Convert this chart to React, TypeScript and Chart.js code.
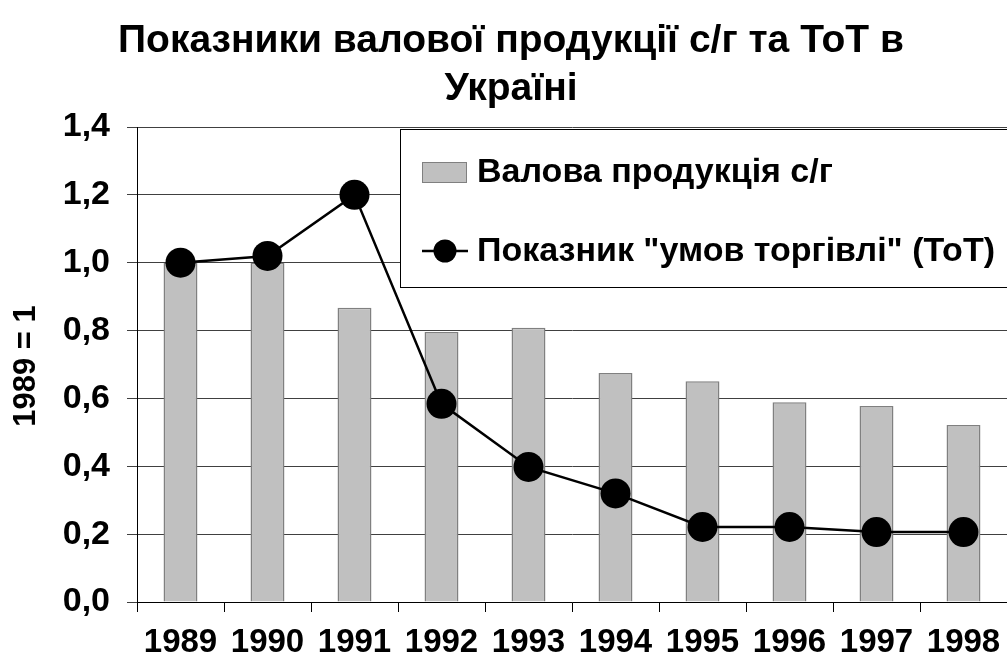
import React, { useEffect, useRef } from "react";
import { Chart, registerables } from "chart.js";

Chart.register(...registerables);

const years = ["1989", "1990", "1991", "1992", "1993", "1994", "1995", "1996", "1997", "1998"];
const grossOutput = [1.0, 1.0, 0.867, 0.796, 0.808, 0.675, 0.651, 0.589, 0.578, 0.522];
const termsOfTrade = [1.0, 1.02, 1.2, 0.584, 0.398, 0.32, 0.221, 0.221, 0.206, 0.206];
const titleLines = ["Показники валової продукції с/г та ТоТ в", "Україні"];
const yAxisTitle = "1989 = 1";
const barLabel = "Валова продукція с/г";
const lineLabel = "Показник \"умов торгівлі\" (ТоТ)";

const FONT = "'Liberation Sans', Arial, sans-serif";

const decorPlugin = {
  id: "decor",
  afterDraw(chart: any) {
    const ctx = chart.ctx as CanvasRenderingContext2D;
    ctx.save();
    // Title
    ctx.fillStyle = "#000";
    ctx.textAlign = "center";
    ctx.textBaseline = "middle";
    ctx.font = `bold 39px ${FONT}`;
    ctx.fillText(titleLines[0], 511, 41);
    ctx.fillText(titleLines[1], 511, 89);
    // Y axis title
    ctx.save();
    ctx.translate(26, 366);
    ctx.rotate(-Math.PI / 2);
    ctx.font = `bold 31px ${FONT}`;
    ctx.fillText(yAxisTitle, 0, 0);
    ctx.restore();
    // Legend
    ctx.fillStyle = "#fff";
    ctx.fillRect(400.5, 129.5, 620, 158);
    ctx.strokeStyle = "#000";
    ctx.lineWidth = 1;
    ctx.strokeRect(400.5, 129.5, 620, 158);
    ctx.fillStyle = "#c0c0c0";
    ctx.fillRect(422.5, 162.5, 44, 20);
    ctx.strokeStyle = "#808080";
    ctx.strokeRect(422.5, 162.5, 44, 20);
    ctx.strokeStyle = "#000";
    ctx.lineWidth = 2.5;
    ctx.beginPath();
    ctx.moveTo(422, 251);
    ctx.lineTo(468, 251);
    ctx.stroke();
    ctx.fillStyle = "#000";
    ctx.beginPath();
    ctx.arc(445, 251, 11.5, 0, Math.PI * 2);
    ctx.fill();
    ctx.textAlign = "left";
    ctx.font = `bold 34px ${FONT}`;
    ctx.fillText(barLabel, 477, 173);
    ctx.fillText(lineLabel, 477, 252);
    ctx.restore();
  },
};

export default function App() {
  const ref = useRef<HTMLCanvasElement | null>(null);
  useEffect(() => {
    if (!ref.current) return;
    const chart = new Chart(ref.current, {
      type: "bar",
      data: {
        labels: years,
        datasets: [
          {
            type: "line",
            label: lineLabel,
            data: termsOfTrade,
            borderColor: "#000",
            borderWidth: 2.5,
            pointRadius: 15,
            pointBackgroundColor: "#000",
            pointBorderColor: "#000",
            pointBorderWidth: 0,
            order: 0,
          } as any,
          {
            type: "bar",
            label: barLabel,
            data: grossOutput,
            backgroundColor: "#c0c0c0",
            borderColor: "#808080",
            borderWidth: 1.5,
            categoryPercentage: 1,
            barPercentage: 0.39,
            order: 1,
          },
        ],
      },
      options: {
        animation: false,
        responsive: false,
        layout: { autoPadding: false, padding: { left: 0, top: 127, right: -1, bottom: 0 } },
        plugins: { legend: { display: false }, title: { display: false }, tooltip: { enabled: false } },
        scales: {
          x: {
            afterFit(scale: any) {
              scale.height = 64;
              scale.paddingLeft = 0;
              scale.paddingRight = 0;
            },
            grid: { drawOnChartArea: false, tickLength: 10, color: "#000", offset: true },
            border: { color: "#000", width: 1 },
            ticks: {
              color: "#000",
              padding: 11,
              font: { family: FONT, size: 33, weight: "bold" },
              maxRotation: 0,
              autoSkip: false,
            },
          },
          y: {
            min: 0,
            max: 1.4,
            afterFit(scale: any) {
              scale.width = 137;
              scale.paddingTop = 0;
              scale.paddingBottom = 0;
            },
            grid: { color: "#404040", lineWidth: 1, tickLength: 10 },
            border: { color: "#000", width: 1 },
            ticks: {
              stepSize: 0.2,
              color: "#000",
              padding: 17,
              font: { family: FONT, size: 34, weight: "bold" },
              callback: (v: any) => Number(v).toFixed(1).replace(".", ","),
            },
          },
        },
      },
      plugins: [decorPlugin],
    });
    return () => chart.destroy();
  }, []);
  return (
    <div style={{ position: "absolute", left: 0, top: 0, width: 1007, height: 666, background: "#fff", overflow: "hidden" }}>
      <canvas ref={ref} width={1007} height={666} style={{ width: 1007, height: 666 }} />
    </div>
  );
}
